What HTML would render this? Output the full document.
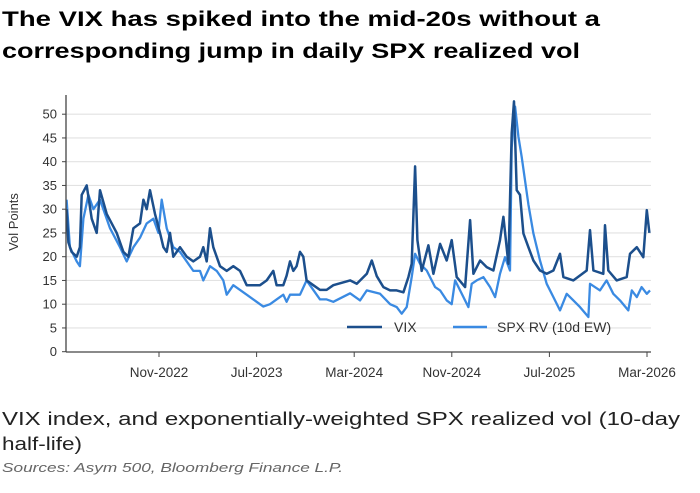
<!DOCTYPE html>
<html><head><meta charset="utf-8"><style>
html,body{margin:0;padding:0;background:#fff;width:700px;height:493px;overflow:hidden}
svg{display:block;font-family:"Liberation Sans",sans-serif}
</style></head><body>
<svg id="chart" width="700" height="493" viewBox="0 0 700 493">
  <text x="2" y="26" font-size="21" font-weight="bold" fill="#000" textLength="598" lengthAdjust="spacingAndGlyphs">The VIX has spiked into the mid-20s without a</text>
  <text x="2" y="58" font-size="21" font-weight="bold" fill="#000" textLength="578" lengthAdjust="spacingAndGlyphs">corresponding jump in daily SPX realized vol</text>
  <g id="grid"></g>
  <g id="yticks"></g>
  <g id="xticks"></g>
  <g id="series"></g>
  <line x1="66" y1="95" x2="66" y2="352" stroke="#444" stroke-width="1.3"/>
  <line x1="66" y1="352" x2="651" y2="352" stroke="#444" stroke-width="1.3"/>
  <text transform="translate(18,222) rotate(-90)" text-anchor="middle" font-size="13" fill="#333">Vol Points</text>
  <g>
    <g>
      <line x1="347" y1="327" x2="382" y2="327" stroke="#1c4f8c" stroke-width="2.5"/>
      <text x="394" y="332" font-size="14" fill="#333">VIX</text>
    </g>
    <g>
      <line x1="453" y1="327" x2="487" y2="327" stroke="#3a8ae2" stroke-width="2.5"/>
      <text x="497" y="332" font-size="14" fill="#333">SPX RV (10d EW)</text>
    </g>
  </g>
  <text x="2" y="425" font-size="18" fill="#222" textLength="678" lengthAdjust="spacingAndGlyphs">VIX index, and exponentially-weighted SPX realized vol (10-day</text>
  <text x="2" y="450" font-size="18" fill="#222" textLength="80" lengthAdjust="spacingAndGlyphs">half-life)</text>
  <text x="2" y="472" font-size="13" font-style="italic" fill="#666" textLength="341" lengthAdjust="spacingAndGlyphs">Sources: Asym 500, Bloomberg Finance L.P.</text>
</svg>
<script>
// months since Jan-2022
const vixMonths=[2.43,2.57,2.84,3.25,3.52,3.66,4.07,4.48,4.89,5.16,5.71,6.53,7.08,7.49,7.90,8.44,8.72,8.99,9.26,9.67,10.08,10.36,10.63,10.90,11.17,11.72,12.27,12.81,13.36,13.63,13.91,14.18,14.45,15.0,15.55,16.09,16.64,17.19,17.73,18.28,18.83,19.37,19.64,20.19,20.46,20.74,21.01,21.28,21.56,21.83,22.10,22.65,23.20,23.74,24.29,25.66,26.21,27.03,27.44,27.85,28.39,28.94,29.48,30.03,30.44,30.71,30.99,31.18,31.53,32.08,32.49,33.04,33.58,33.99,34.40,35.09,35.50,35.77,36.32,36.86,37.41,37.95,38.23,38.64,38.91,39.10,39.32,39.59,39.87,40.28,40.69,41.23,41.78,42.33,42.87,43.15,43.97,45.06,45.33,45.61,46.42,46.56,46.83,47.52,48.34,48.61,49.16,49.70,49.98,50.20];
const vixValues=[30,23,21,20,22,33,35,28,25,34,29,25,21,20,26,27,32,30,34,29,25,22,21,25,20,22,20,19,20,22,19,26,22,18,17,18,17,14,14,14,15,17,14,14,16,19,17,18,21,20,15,14,13,13,14,15,14.3,16.4,19.2,15.9,13.6,12.9,12.9,12.5,15.7,18.5,39,23.5,17,22.4,16.4,22.7,19.2,23.5,15.7,13.6,27.7,16.4,19.2,17.8,17.1,23.5,28.4,18.5,46,52.7,34,33,24.9,22,19.2,17.1,16.4,17.1,20.6,15.7,15,17.1,25.6,17.1,16.4,26.6,17.1,15,15.7,20.6,22,19.9,29.8,25];
const rvMonths=[2.43,2.70,3.25,3.52,3.80,4.21,4.62,5.16,5.98,6.80,7.35,7.90,8.44,8.99,9.54,9.95,10.22,10.63,11.17,11.72,12.27,12.81,13.36,13.63,14.18,14.73,15.27,15.55,16.09,16.64,17.19,17.73,18.55,19.10,19.64,20.19,20.46,20.74,21.56,22.10,22.65,23.20,23.74,24.29,25.66,26.48,27.03,28.12,28.94,29.48,29.89,30.30,30.71,30.99,31.40,31.94,32.63,33.04,33.58,33.99,34.27,34.68,35.36,35.63,36.04,36.59,37.14,37.55,37.95,38.36,38.77,38.91,39.19,39.46,39.73,40.28,40.69,41.23,41.78,42.33,42.87,43.42,43.97,44.51,45.20,45.33,46.15,46.69,47.24,47.79,48.47,48.75,49.16,49.56,49.98,50.25];
const rvValues=[32,22,19,18,28,33,30,32,26,22,19,22,24,27,28,25,32,26,22,21,19,17,17,15,18,17,15,12,14,13,12,11,9.5,10,11,12,10.5,12,12,15,13,11,11,10.5,12.3,10.8,12.9,12.2,10,9.4,8,9.4,15.7,20.6,18.5,17.1,13.6,12.9,10.8,10,15,12.9,9.4,14.3,15,15.7,13.6,11.5,16.4,19.9,17.1,43,51.6,45.3,41,31,24.9,19.2,14.3,11.5,8.7,12.2,10.8,9.4,7.3,14.3,12.9,15,12.2,10.8,8.7,12.9,11.5,13.6,12.2,12.9];
const yTicks=[0,5,10,15,20,25,30,35,40,45,50];
const xTickMonths=[10,18,26,34,42,50];
const xTickLabels=["Nov-2022","Jul-2023","Mar-2024","Nov-2024","Jul-2025","Mar-2026"];

const NS="http://www.w3.org/2000/svg";
function xScale(m){return 159+(m-10)*12.2;}
function yScale(v){return 351.7-v*4.75;}
function mk(tag,attrs,parent){const e=document.createElementNS(NS,tag);for(const k in attrs)e.setAttribute(k,attrs[k]);parent.appendChild(e);return e;}

const grid=document.getElementById('grid'),yt=document.getElementById('yticks'),xt=document.getElementById('xticks'),ser=document.getElementById('series');
yTicks.forEach(v=>{
  if(v>0){const g=mk('line',{x1:66,x2:651,y1:yScale(v),y2:yScale(v),stroke:'#e2e2e2','stroke-width':1.2},grid);
  
  }
  const tm=mk('line',{x1:62,x2:66,y1:yScale(v),y2:yScale(v),stroke:'#444','stroke-width':1},yt);
  
  
  const t=mk('text',{x:57,y:yScale(v)+4.5,'text-anchor':'end','font-size':13,fill:'#333'},yt);
  t.textContent=v;
  
  
});
xTickMonths.forEach((m,i)=>{
  const tm=mk('line',{x1:xScale(m),x2:xScale(m),y1:352,y2:357,stroke:'#444','stroke-width':1},xt);
  
  
  const t=mk('text',{x:xScale(m),y:377,'text-anchor':'middle','font-size':13.5,fill:'#333'},xt);
  t.textContent=xTickLabels[i];
  
  
});
function pathFor(ms,vs){return ms.map((m,i)=>(i?'L':'M')+xScale(m).toFixed(1)+' '+yScale(vs[i]).toFixed(1)).join(' ');}
const rv=mk('path',{d:pathFor(rvMonths,rvValues),fill:'none',stroke:'#3a8ae2','stroke-width':2.3,'stroke-linejoin':'round'},ser);


const vx=mk('path',{d:pathFor(vixMonths,vixValues),fill:'none',stroke:'#1c4f8c','stroke-width':2.5,'stroke-linejoin':'round'},ser);


</script>
</body></html>
